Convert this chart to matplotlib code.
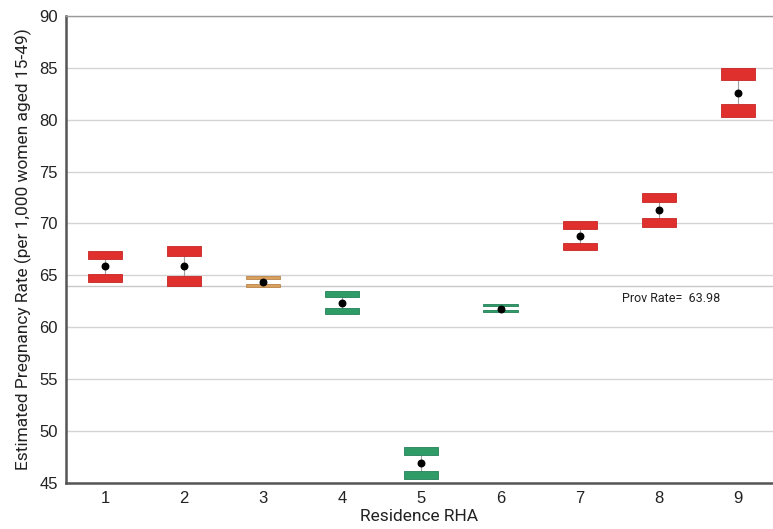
import numpy as np
import matplotlib.pyplot as plt
from matplotlib.patches import Rectangle

# Pregnancy rate estimates by residence RHA with 95% CI
rha = [1, 2, 3, 4, 5, 6, 7, 8, 9]
rate = [65.9, 65.9, 64.4, 62.3, 46.9, 61.8, 68.8, 71.3, 82.6]
ci_low = [64.4, 64.0, 63.9, 61.3, 45.4, 61.45, 67.4, 69.7, 80.3]
ci_high = [67.3, 67.8, 64.95, 63.45, 48.45, 62.25, 70.2, 72.9, 85.0]
status = ['high', 'high', 'same', 'low', 'low', 'low', 'high', 'high', 'high']
PROV_RATE = 63.98

COLORS = {'high': '#e0302e', 'same': '#d9a05e', 'low': '#2f9b67'}
EDGES = {'high': '#c42624', 'same': '#b9844a', 'low': '#25805a'}
HALF_W = 0.215
CAP_FRAC = 0.25
LABEL_FONT = 'Roboto'

fig = plt.figure(figsize=(7.73, 5.29), dpi=100)
ax = fig.add_axes([0.0854, 0.087, 0.9146, 0.883])

ax.set_ylim(45, 90)
ax.set_xlim(0.507, 9.445)
ax.set_yticks(np.arange(45, 91, 5))
ax.set_xticks(rha)
ax.yaxis.grid(True, color='#d4d4d4', linewidth=1)
ax.set_axisbelow(True)

ax.axhline(PROV_RATE, color='#c8c8c8', linewidth=1, zorder=1)
ax.text(7.53, PROV_RATE - 0.6, 'Prov Rate=  63.98', fontsize=9,
        family=LABEL_FONT, color='#222222', va='top')

for x, y, lo, hi, s in zip(rha, rate, ci_low, ci_high, status):
    cap = (hi - lo) * CAP_FRAC
    ax.plot([x, x], [lo + cap, hi - cap], color='#a0a0a0', linewidth=0.8, zorder=2)
    for bottom in (lo, hi - cap):
        ax.add_patch(Rectangle((x - HALF_W, bottom), 2 * HALF_W, cap,
                               facecolor=COLORS[s], edgecolor=EDGES[s],
                               linewidth=0.6, zorder=3))
ax.scatter(rha, rate, s=22, color='black', zorder=4)

for side in ('left', 'bottom'):
    ax.spines[side].set_color('#555555')
    ax.spines[side].set_linewidth(1.8)
ax.spines['top'].set_color('#9a9a9a')
ax.spines['top'].set_linewidth(1.0)
ax.spines['right'].set_visible(False)
ax.tick_params(length=0, labelsize=12, colors='#222222', pad=6)
for lbl in ax.get_xticklabels() + ax.get_yticklabels():
    lbl.set_family('Liberation Sans')

ax.set_ylabel('Estimated Pregnancy Rate (per 1,000 women aged 15-49)',
              family=LABEL_FONT, fontsize=12.5, color='#222222', labelpad=5)
ax.set_xlabel('Residence RHA', family=LABEL_FONT, fontsize=12.5,
              color='#222222', labelpad=2)

fig.savefig('out.png', dpi=100)
